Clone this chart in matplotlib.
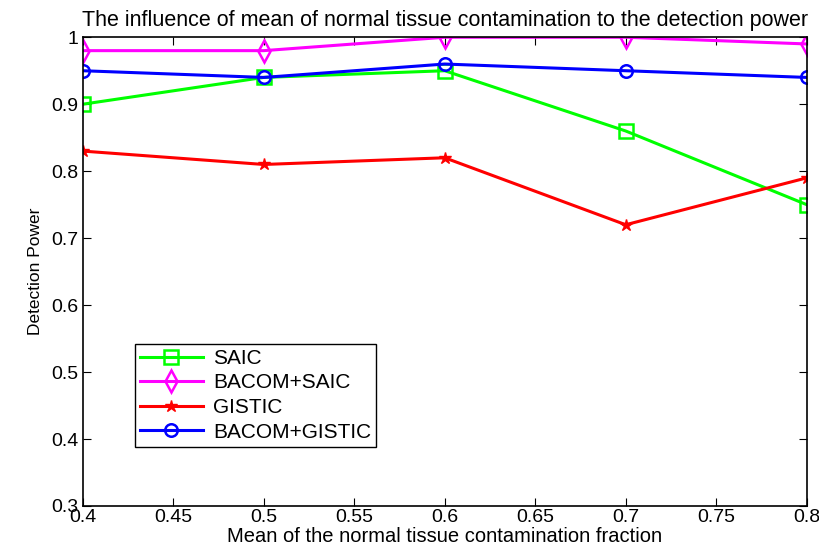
import matplotlib
matplotlib.use('Agg')
import matplotlib.pyplot as plt

contamination = [0.4, 0.5, 0.6, 0.7, 0.8]
saic = [0.90, 0.94, 0.95, 0.86, 0.75]
bacom_saic = [0.98, 0.98, 1.00, 1.00, 0.99]
gistic = [0.83, 0.81, 0.82, 0.72, 0.79]
bacom_gistic = [0.95, 0.94, 0.96, 0.95, 0.94]

xtick_labels = ['0.4', '0.45', '0.5', '0.55', '0.6', '0.65', '0.7', '0.75', '0.8']
ytick_labels = ['0.3', '0.4', '0.5', '0.6', '0.7', '0.8', '0.9', '1']

plt.rcParams['font.family'] = ['Liberation Sans', 'DejaVu Sans']

fig = plt.figure(figsize=(8.19, 5.56), dpi=100)
ax = fig.add_axes([0.101, 0.090, 0.884, 0.843])

ax.plot(contamination, saic, color='#00ff00', lw=2.2, marker='s', ms=10,
        mfc='none', mew=1.8, label='SAIC')
ax.plot(contamination, bacom_saic, color='#ff00ff', lw=2.2, marker='d', ms=11,
        mfc='none', mew=1.8, label='BACOM+SAIC')
ax.plot(contamination, gistic, color='#ff0000', lw=2.2, marker='*', ms=9,
        label='GISTIC')
ax.plot(contamination, bacom_gistic, color='#0000ff', lw=2.2, marker='o', ms=9,
        mfc='none', mew=1.8, label='BACOM+GISTIC')

ax.set_xlim(0.4, 0.8)
ax.set_ylim(0.3, 1.0)
ax.set_xticks([float(t) for t in xtick_labels])
ax.set_xticklabels(xtick_labels)
ax.set_yticks([float(t) for t in ytick_labels])
ax.set_yticklabels(ytick_labels)
ax.tick_params(direction='in', top=True, right=True, length=6, labelsize=14)
ax.tick_params(axis='x', pad=2)
ax.tick_params(axis='y', pad=3)
for s in ax.spines.values():
    s.set_linewidth(1.2)

ax.set_title('The influence of mean of normal tissue contamination to the detection power',
             fontsize=15.5, pad=8)
ax.set_xlabel('Mean of the normal tissue contamination fraction', fontsize=14.5, labelpad=1)
ax.set_ylabel('Detection Power', fontsize=12.5, labelpad=6)

ax.legend(loc='lower left', bbox_to_anchor=(0.072, 0.126), fontsize=15,
          fancybox=False, edgecolor='black', framealpha=1, borderaxespad=0,
          handlelength=3.0, handletextpad=0.5, labelspacing=0.27,
          borderpad=0.25)

fig.savefig('out.png', dpi=100)
